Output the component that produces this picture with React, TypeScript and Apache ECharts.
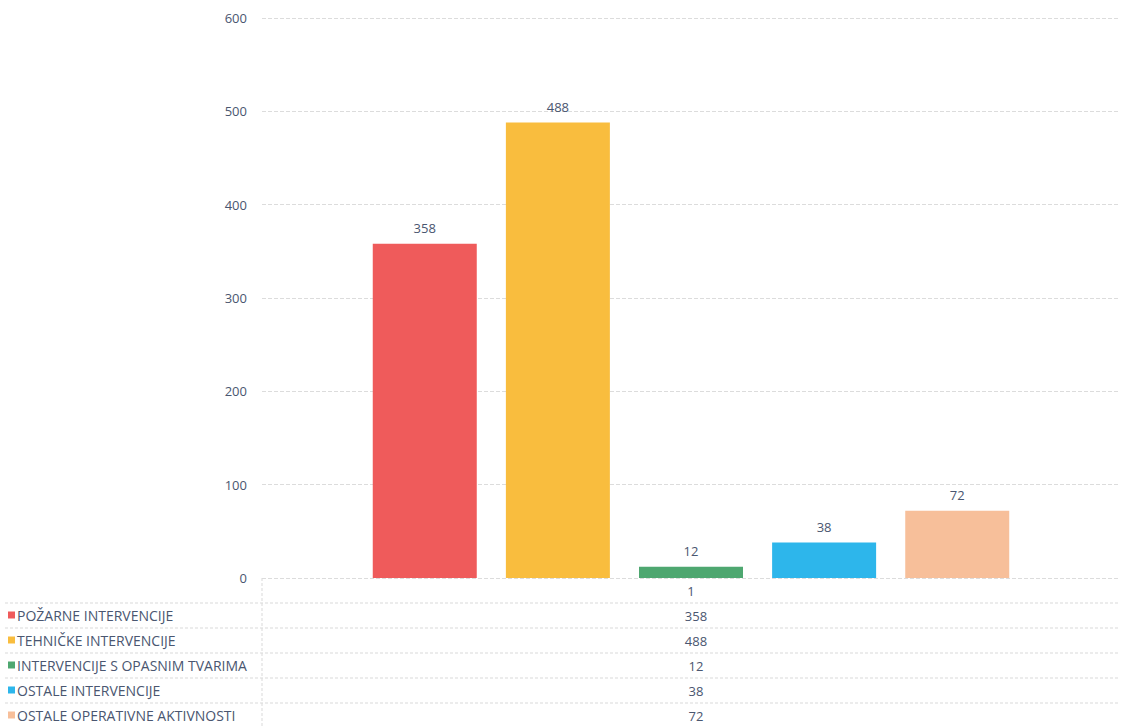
import React, { useEffect, useRef } from "react";
import * as echarts from "echarts";

const categories = ["1"];
const names = [
  "POŽARNE INTERVENCIJE",
  "TEHNIČKE INTERVENCIJE",
  "INTERVENCIJE S OPASNIM TVARIMA",
  "OSTALE INTERVENCIJE",
  "OSTALE OPERATIVNE AKTIVNOSTI",
];
const values = [358, 488, 12, 38, 72];
const colors = ["#EF5B5B", "#F9BD3E", "#4EA770", "#2DB6EB", "#F7BF9A"];
const yTicks = [0, 100, 200, 300, 400, 500, 600];

const W = 1124;
const H = 726;
const GL = 262;
const GR = 1120;
const GT = 18;
const GB = 578;
const ROW = 25;
const TXT = "#4A5670";
const FONT = "'Open Sans', sans-serif";

export default function App() {
  const ref = useRef<HTMLDivElement>(null);
  useEffect(() => {
    const chart = echarts.init(ref.current!, null, { renderer: "svg" });
    const graphic: any[] = [];
    graphic.push({
      type: "line",
      shape: { x1: GL, y1: GB, x2: GL, y2: H },
      style: { stroke: "#D9D9D9", lineWidth: 1, lineDash: [3, 2] },
    });
    for (let i = 0; i < names.length; i++) {
      const y = GB + ROW * (i + 1);
      graphic.push({
        type: "line",
        shape: { x1: 5, y1: y, x2: GR, y2: y },
        style: { stroke: "#D9D9D9", lineWidth: 1, lineDash: [3, 2] },
      });
      const cy = y + ROW / 2;
      graphic.push({
        type: "rect",
        shape: { x: 8, y: cy - 4, width: 7, height: 7 },
        style: { fill: colors[i] },
      });
      graphic.push({
        type: "text",
        x: 17,
        y: cy,
        style: {
          text: names[i],
          fill: TXT,
          font: `14px ${FONT}`,
          textVerticalAlign: "middle",
          textAlign: "left",
        },
      });
      graphic.push({
        type: "text",
        x: (GL + GR) / 2 + 5,
        y: cy,
        style: {
          text: String(values[i]),
          fill: TXT,
          font: `13px ${FONT}`,
          textVerticalAlign: "middle",
          textAlign: "center",
        },
      });
    }
    chart.setOption({
      animation: false,
      grid: { left: GL, right: W - GR, top: GT, bottom: H - GB, containLabel: false },
      xAxis: {
        type: "category",
        data: categories,
        axisLine: { show: false },
        axisTick: { show: false },
        axisLabel: {
          color: TXT,
          fontSize: 13,
          fontFamily: FONT,
          margin: 6,
          align: "center",
        },
      },
      yAxis: {
        type: "value",
        min: yTicks[0],
        max: yTicks[yTicks.length - 1],
        interval: 100,
        axisLine: { show: false },
        axisTick: { show: false },
        axisLabel: { color: TXT, fontSize: 13, fontFamily: FONT, margin: 15 },
        splitLine: { lineStyle: { color: "#DCDCDC", type: [4, 2] } },
      },
      series: names.map((n, i) => ({
        name: n,
        type: "bar",
        data: [values[i]],
        barWidth: 104,
        barGap: "28%",
        itemStyle: { color: colors[i] },
        label: {
          show: true,
          position: "top",
          distance: 9,
          color: TXT,
          fontSize: 13,
          fontFamily: FONT,
        },
      })),
      graphic,
    });
    return () => chart.dispose();
  }, []);
  return (
    <div
      ref={ref}
      style={{ position: "fixed", left: 0, top: 0, width: W, height: H, background: "#fff" }}
    />
  );
}
